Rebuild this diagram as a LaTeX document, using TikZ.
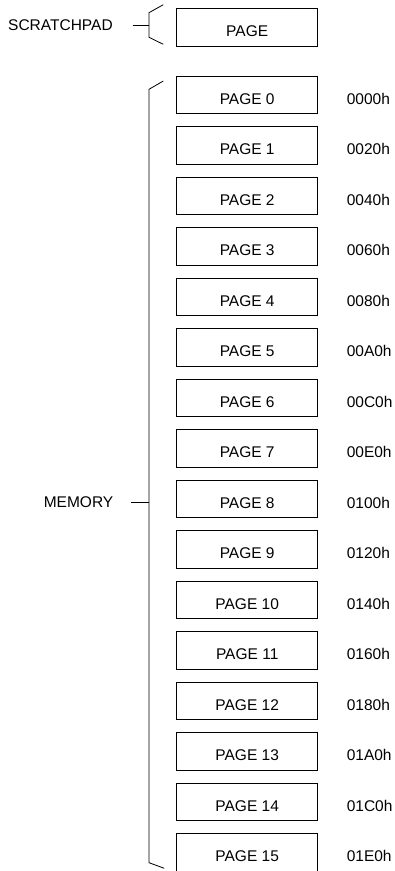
\documentclass[tikz,border=0pt]{standalone}
\usepackage{fontspec}
\setmainfont{Liberation Sans}
\begin{document}
\begin{tikzpicture}[x=1pt,y=-1pt,line width=0.8pt,
  font=\fontsize{15.5}{18}\selectfont,
  pagebox/.style={shape=rectangle,draw=black,inner sep=0pt,minimum width=141pt,text height=28.3pt,text depth=9.4pt,anchor=north},
  addr/.style={inner sep=0pt,anchor=base west,xshift=28.3pt},
  side/.style={inner sep=0pt,anchor=east}]
 \useasboundingbox (0,0) rectangle (395,871);
 % pages
 \node (pg s) at (247.2,8) [pagebox] {PAGE};
 \node (pg 0) at (247.2,75.7) [pagebox] {PAGE 0};
 \node (pg 1) at (247.2,126.2) [pagebox] {PAGE 1};
 \node (pg 2) at (247.2,176.7) [pagebox] {PAGE 2};
 \node (pg 3) at (247.2,227.2) [pagebox] {PAGE 3};
 \node (pg 4) at (247.2,277.7) [pagebox] {PAGE 4};
 \node (pg 5) at (247.2,328.2) [pagebox] {PAGE 5};
 \node (pg 6) at (247.2,378.7) [pagebox] {PAGE 6};
 \node (pg 7) at (247.2,429.2) [pagebox] {PAGE 7};
 \node (pg 8) at (247.2,479.7) [pagebox] {PAGE 8};
 \node (pg 9) at (247.2,530.2) [pagebox] {PAGE 9};
 \node (pg 10) at (247.2,580.7) [pagebox] {PAGE 10};
 \node (pg 11) at (247.2,631.2) [pagebox] {PAGE 11};
 \node (pg 12) at (247.2,681.7) [pagebox] {PAGE 12};
 \node (pg 13) at (247.2,732.2) [pagebox] {PAGE 13};
 \node (pg 14) at (247.2,782.7) [pagebox] {PAGE 14};
 \node (pg 15) at (247.2,833.2) [pagebox] {PAGE 15};
 % addresses
 \node (addr 0) at (pg 0.base east) [addr] {0000h};
 \node (addr 1) at (pg 1.base east) [addr] {0020h};
 \node (addr 2) at (pg 2.base east) [addr] {0040h};
 \node (addr 3) at (pg 3.base east) [addr] {0060h};
 \node (addr 4) at (pg 4.base east) [addr] {0080h};
 \node (addr 5) at (pg 5.base east) [addr] {00A0h};
 \node (addr 6) at (pg 6.base east) [addr] {00C0h};
 \node (addr 7) at (pg 7.base east) [addr] {00E0h};
 \node (addr 8) at (pg 8.base east) [addr] {0100h};
 \node (addr 9) at (pg 9.base east) [addr] {0120h};
 \node (addr 10) at (pg 10.base east) [addr] {0140h};
 \node (addr 11) at (pg 11.base east) [addr] {0160h};
 \node (addr 12) at (pg 12.base east) [addr] {0180h};
 \node (addr 13) at (pg 13.base east) [addr] {01A0h};
 \node (addr 14) at (pg 14.base east) [addr] {01C0h};
 \node (addr 15) at (pg 15.base east) [addr] {01E0h};
 % braces
 \draw (163.3,4.7) -- (149,12.7) -- (149,37.3) -- (163.3,44.3);
 \draw (163.3,81) -- (149,89.3) -- (149,862.7) -- (164.3,868.3);
 \coordinate (sp tip) at (149,25);
 \coordinate (mem tip) at (149,502.3);
 \node (sp) at (132.7,25) [side,outer xsep=20pt] {SCRATCHPAD};
 \node (mem) at (131,502.3) [side,outer xsep=17.7pt] {MEMORY};
 \draw (sp) -- (sp tip);
 \draw (mem) -- (mem tip);
\end{tikzpicture}
\end{document}
